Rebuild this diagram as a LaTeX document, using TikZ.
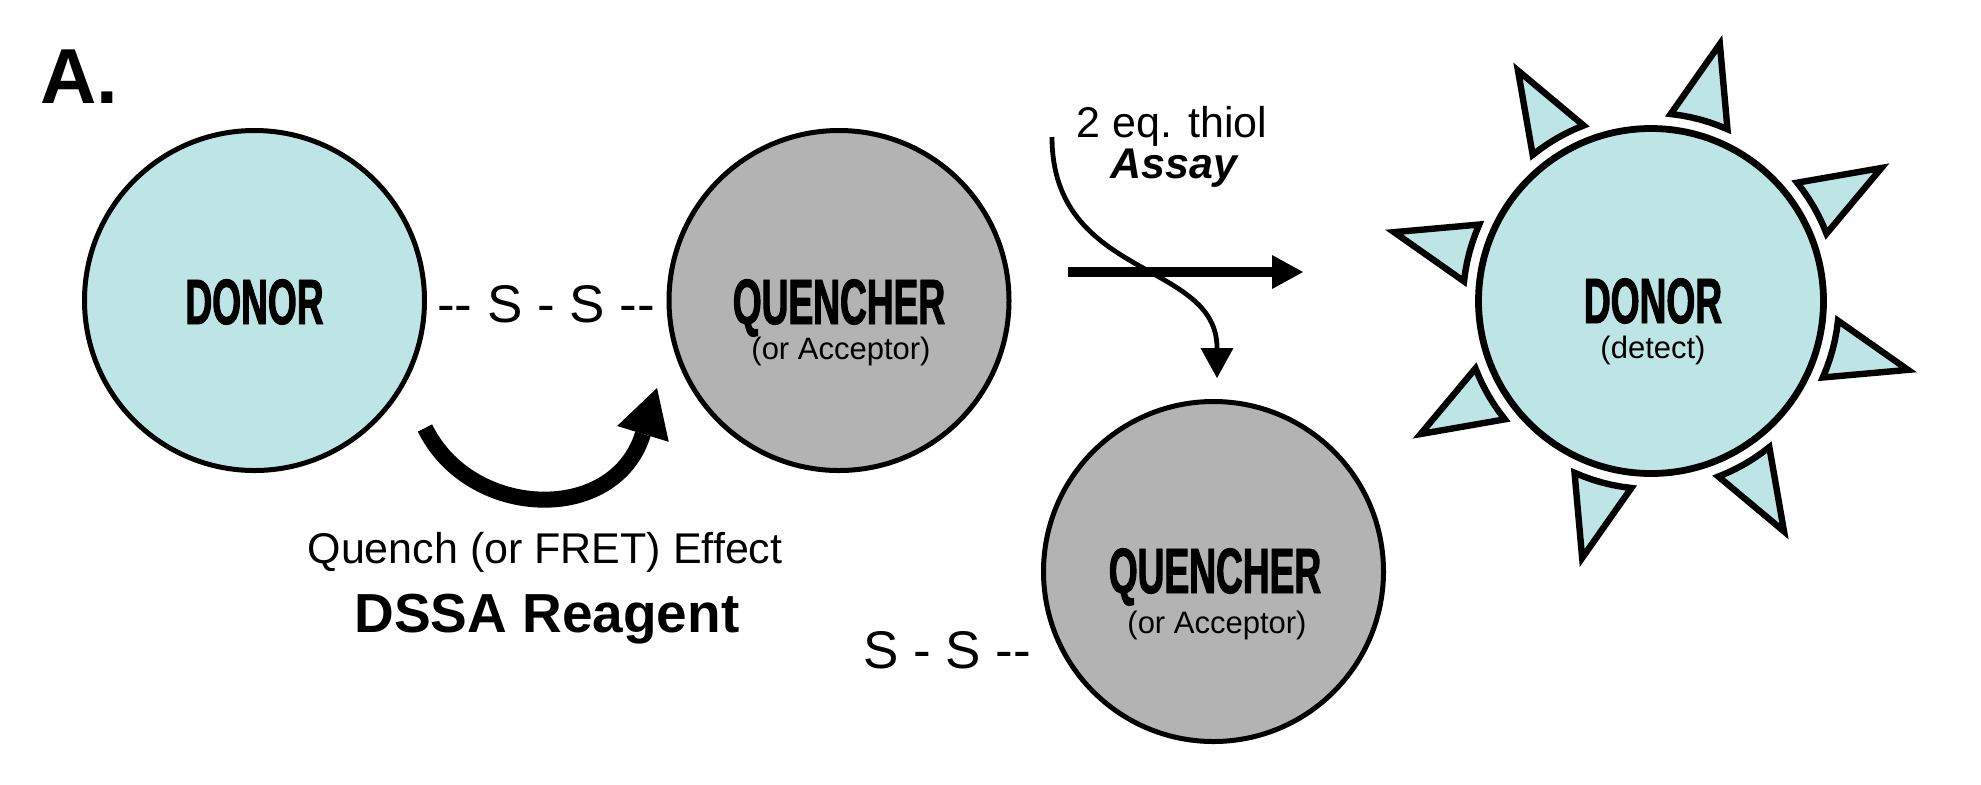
\documentclass[tikz,border=0pt]{standalone}
\usepackage{fontspec}
\setmainfont{Liberation Sans}
\newfontfamily\arial{Liberation Sans}
\newfontfamily\bebas{Liberation Sans}[FakeStretch=0.58,FakeBold=1.5]
\usetikzlibrary{arrows.meta}
\definecolor{donorcyan}{HTML}{BEE5E6}
\definecolor{qgray}{HTML}{B3B3B3}
\newcommand{\fsz}[1]{\fontsize{#1pt}{#1pt}\selectfont}
\begin{document}
\begin{tikzpicture}[x=0.5pt,y=-0.5pt,
  every node/.style={inner sep=0pt,outer sep=0pt},
  ball/.style={circle,draw=black,line width=2.5pt,minimum size=170pt},
  sunball/.style={circle,draw=black,line width=3.4pt,minimum size=172.5pt,fill=donorcyan},
  spike/.style={draw=black,line width=3.2pt,line join=miter,fill=donorcyan},
  biglbl/.style={font=\bebas\bfseries\fsz{32},anchor=base,text depth=0pt},
  sublbl/.style={font=\arial\fsz{15.5},anchor=base,text height=10pt},
  plain/.style={font=\arial\fsz{21.5},anchor=base},
  bond/.style={font=\arial\fsz{26.5},anchor=base},
  thin arrow/.style={line width=2.4pt,-{Triangle[length=15pt,width=16.5pt,line width=0pt]}},
  main arrow/.style={line width=4.6pt,-{Triangle[length=15.5pt,width=17pt,line width=0pt]}},
  quench arrow/.style={line width=8pt,-{Triangle[length=24pt,width=27pt,line width=0pt]}}
]
\fill[white] (0,0) rectangle (1981,784);
\useasboundingbox (0,0) rectangle (1981,784);

% label A
\node[font=\arial\bfseries\fsz{39},anchor=base west] (lblA) at (40,103) {A.};

% left donor and quencher
\node[ball,fill=donorcyan] (donor) at (254.5,300.5) {};
\node[biglbl] (donorlbl) at (254.5,324) {DONOR};
\node[bond] (ss1) at (546,322) {-- S - S --};
\node[ball,fill=qgray] (quench) at (839,300.5) {};
\node[biglbl] (quenchlbl) at (839,324) {QUENCHER};
\node[sublbl] (quenchsub) at (841,359) {(or Acceptor)};

% quench effect arrow
\coordinate (qa1) at (425,428);
\coordinate (qa2) at (657,388);
\draw[quench arrow] (qa1) .. controls (470,520) and (615,525) .. (qa2);
\node[plain] (qtext) at (545,563) {Quench (or FRET) Effect};
\node[font=\arial\bfseries\fsz{27.5},anchor=base] (dssa) at (547,632) {DSSA Reagent};

% reaction arrow
\coordinate (h1) at (1068,272);
\coordinate (h2) at (1303,272);
\draw[main arrow] (h1) -- (h2);
\coordinate (c1) at (1052,137);
\coordinate (c2) at (1217,378);
\draw[thin arrow] (c1) .. controls (1052,280) and (1217,260) .. (c2);
\node[plain] (thiol) at (1172,137) {2 eq. thiol};
\node[font=\arial\bfseries\itshape\fsz{21.5},anchor=base] (assay) at (1174,178) {Assay};

% released quencher
\node[ball,fill=qgray] (quenchB) at (1213.5,571.5) {};
\node[biglbl] (quenchBlbl) at (1215,593) {QUENCHER};
\node[sublbl] (quenchBsub) at (1217,633) {(or Acceptor)};
\node[bond] (ss2) at (947,668) {S - S --};

% glowing donor
\node[sunball] (sun) at (1651,301) {};
\begin{scope}[shift={(sun.center)}]
\foreach \a in {15,60,...,330} {
  \pgfmathsetmacro\aa{\a-9}
  \pgfmathsetmacro\ab{\a+9}
  \draw[spike] (\a:266) -- plot[domain=\aa:\ab,samples=7] (\x:188) -- cycle;
}
\end{scope}
\node[biglbl] (sunlbl) at (1653,323) {DONOR};
\node[sublbl] (sunsub) at (1653,358) {(detect)};
\end{tikzpicture}
\end{document}
